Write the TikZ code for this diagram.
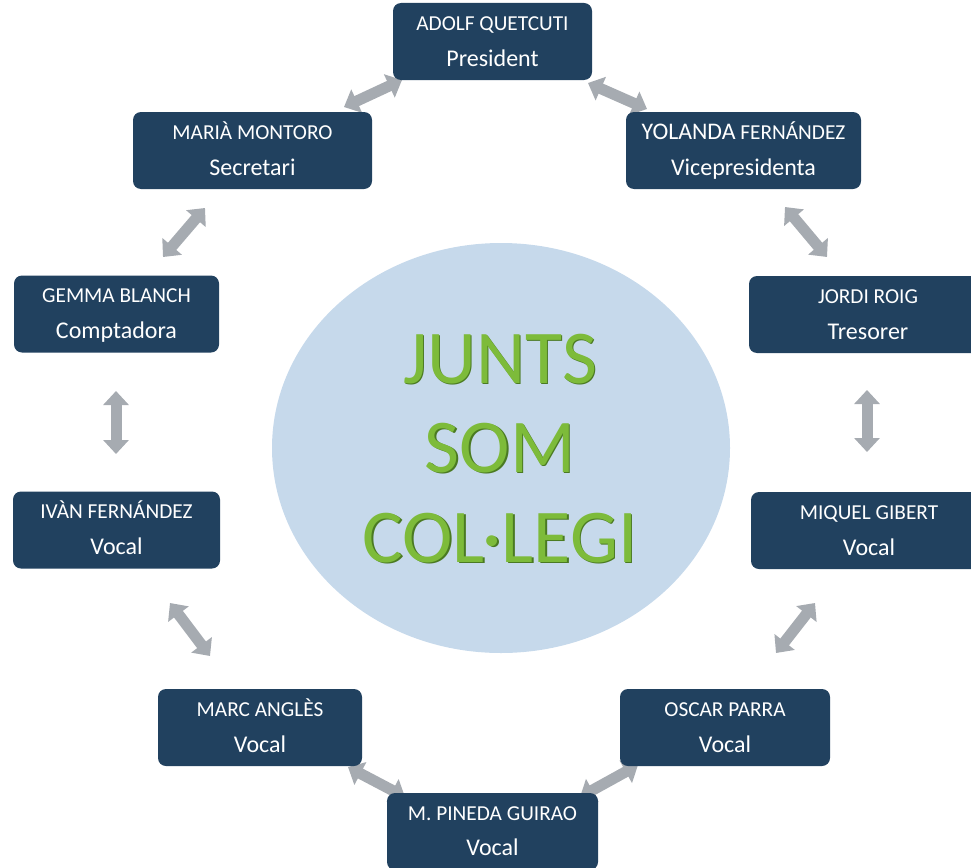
\documentclass[tikz,border=0pt]{standalone}
\usepackage{fontspec}
\setmainfont{Carlito}
\usetikzlibrary{arrows.meta,calc,shapes.geometric}
\definecolor{boxblue}{HTML}{21415F}
\definecolor{arrgray}{HTML}{A6ABB1}
\definecolor{ellblue}{HTML}{C6D9EB}
\definecolor{txtgreen}{HTML}{7DBB3A}
\definecolor{txtdark}{HTML}{4A7A22}
\begin{document}
\begin{tikzpicture}[x=1pt,y=-1pt,
  box/.style={fill=boxblue, rounded corners=8pt, minimum width=#1, minimum height=77pt, inner sep=0pt, draw=none},
  nm/.style={anchor=base, text=white, font=\fontsize{21.3}{25}\selectfont, inner sep=0pt},
  rl/.style={anchor=base, text=white, font=\fontsize{24}{28}\selectfont, inner sep=0pt},
  dbl/.style={draw=arrgray, line width=11pt, {Triangle[length=14pt,width=25pt]}-{Triangle[length=14pt,width=25pt]}},
  bigtxt/.style={anchor=base, inner sep=0pt, font=\fontsize{76}{88}\selectfont},
  ctd/.style={bigtxt, text=txtdark},
  ctg/.style={bigtxt, text=txtgreen}
]
\useasboundingbox (0,0) rectangle (971,867);
\clip (0,0) rectangle (971,867);

% central ellipse
\node[ellipse, fill=ellblue, minimum width=458pt, minimum height=410pt, inner sep=0pt] (circ) at (501,448) {};

% arrow end points
\coordinate (a1s) at (402,80);  \coordinate (a1e) at (344,107);
\coordinate (a2s) at (588,83);  \coordinate (a2e) at (647,109);
\coordinate (a3s) at (205,208); \coordinate (a3e) at (163,257);
\coordinate (a4s) at (785,207); \coordinate (a4e) at (827,257);
\coordinate (a5s) at (116,391); \coordinate (a5e) at (116,454);
\coordinate (a6s) at (867,390); \coordinate (a6e) at (867,452);
\coordinate (a7s) at (170,603); \coordinate (a7e) at (210,656);
\coordinate (a8s) at (815,603); \coordinate (a8e) at (776,653);
\coordinate (a9s) at (348,767); \coordinate (a9e) at (405,797);
\coordinate (a10s) at (638,765); \coordinate (a10e) at (580,797);
\foreach \i in {1,...,10} {\draw[dbl] (a\i s) -- (a\i e);}

% boxes
\node[box=199pt] (adolf)   at (492.5,41.5) {};
\node[box=239pt] (maria)   at (252.5,150.5) {};
\node[box=235pt] (yolanda) at (743.5,150.5) {};
\node[box=205pt] (gemma)   at (116.5,314) {};
\node[box=238pt] (jordi)   at (868,314.5) {};
\node[box=207pt] (ivan)    at (116.5,530) {};
\node[box=236pt] (miquel)  at (869,530.5) {};
\node[box=204pt] (marc)    at (260,727.5) {};
\node[box=210pt] (oscar)   at (725,727.5) {};
\node[box=211pt] (pineda)  at (492.5,831.5) {};

% texts
\node[nm] (adolfn) at ($(adolf.north)+(0,27.5)$) {ADOLF QUETCUTI};
\node[rl] (adolfr) at ($(adolf.north)+(0,63.5)$) {President};
\node[nm] (marian) at ($(maria.north)+(0,27.5)$) {MARIÀ MONTORO};
\node[rl] (mariar) at ($(maria.north)+(0,63.5)$) {Secretari};
\node[nm] (yolandan) at ($(yolanda.north)+(0,27.5)$) {{\fontsize{23.8}{28}\selectfont YOLANDA} FERNÁNDEZ};
\node[rl] (yolandar) at ($(yolanda.north)+(0,63.5)$) {Vicepresidenta};
\node[nm] (gemman) at ($(gemma.north)+(0,27.5)$) {GEMMA BLANCH};
\node[rl] (gemmar) at ($(gemma.north)+(0,63.5)$) {Comptadora};
\node[nm] (jordin) at ($(jordi.north)+(0,27.5)$) {JORDI ROIG};
\node[rl] (jordir) at ($(jordi.north)+(0,63.5)$) {Tresorer};
\node[nm] (ivann) at ($(ivan.north)+(0,27.5)$) {IVÀN FERNÁNDEZ};
\node[rl] (ivanr) at ($(ivan.north)+(0,63.5)$) {Vocal};
\node[nm] (miqueln) at ($(miquel.north)+(0,27.5)$) {MIQUEL GIBERT};
\node[rl] (miquelr) at ($(miquel.north)+(0,63.5)$) {Vocal};
\node[nm] (marcn) at ($(marc.north)+(0,27.5)$) {MARC ANGLÈS};
\node[rl] (marcr) at ($(marc.north)+(0,63.5)$) {Vocal};
\node[nm] (oscarn) at ($(oscar.north)+(0,27.5)$) {OSCAR PARRA};
\node[rl] (oscarr) at ($(oscar.north)+(0,63.5)$) {Vocal};
\node[nm] (pinedan) at ($(pineda.north)+(0,27.5)$) {M. PINEDA GUIRAO};
\node[rl] (pinedar) at ($(pineda.north)+(0,62.5)$) {Vocal};

% central motto
\node[ctd] (juntsd) at (501.4,384.4) {JUNTS};
\node[ctg] (junts)  at (500,383) {JUNTS};
\node[ctd] (somd)   at (501.4,473.4) {SOM};
\node[ctg] (som)    at (500,472) {SOM};
\node[ctd] (colegid) at (501.4,563.4) {COL·LEGI};
\node[ctg] (colegi)  at (500,562) {COL·LEGI};
\end{tikzpicture}
\end{document}
